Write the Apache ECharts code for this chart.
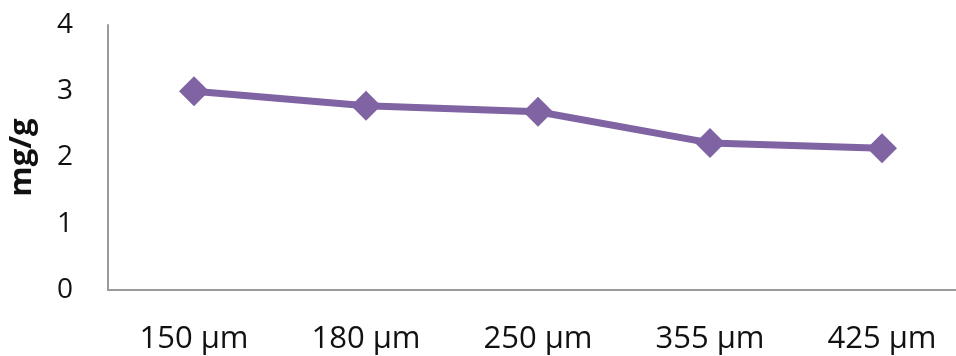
<!DOCTYPE html>
<html>
<head>
<meta charset="utf-8">
<script src="https://cdn.jsdelivr.net/npm/echarts@6/dist/echarts.min.js"></script>
<style>
  html, body { margin: 0; padding: 0; background: #ffffff; }
  #chart { width: 956px; height: 356px; }
</style>
</head>
<body>
<div id="chart"></div>
<script>
// Particle size classes and the measured content for each
const sizes = ['150 µm', '180 µm', '250 µm', '355 µm', '425 µm'];
const content = [3.0, 2.78, 2.69, 2.22, 2.14];
const yTicks = { min: 0, max: 4, interval: 1 };

const chart = echarts.init(document.getElementById('chart'), null, { renderer: 'canvas' });

chart.setOption({
  backgroundColor: '#ffffff',
  animation: false,
  grid: { left: 108, top: 25, width: 860, height: 265, outerBoundsMode: 'none' },
  xAxis: {
    type: 'category',
    data: sizes,
    boundaryGap: true,
    axisLine: { lineStyle: { color: '#9a9a9a', width: 2 } },
    axisTick: { show: false },
    axisLabel: {
      color: '#111111',
      fontFamily: 'Open Sans',
      fontSize: 31,
      margin: 34
    },
    splitLine: { show: false }
  },
  yAxis: {
    type: 'value',
    min: yTicks.min,
    max: yTicks.max,
    interval: yTicks.interval,
    name: 'mg/g',
    nameLocation: 'middle',
    nameRotate: 90,
    nameGap: 70,
    nameTextStyle: {
      color: '#111111',
      fontFamily: 'Open Sans',
      fontWeight: 'bold',
      fontSize: 31
    },
    axisLine: { show: true, lineStyle: { color: '#9a9a9a', width: 2 } },
    axisTick: { show: false },
    axisLabel: {
      color: '#111111',
      fontFamily: 'Open Sans',
      fontSize: 28,
      margin: 35
    },
    splitLine: { show: false }
  },
  series: [{
    type: 'line',
    data: content,
    symbol: 'diamond',
    symbolSize: [30, 30],
    lineStyle: { color: '#7f63a2', width: 7 },
    itemStyle: { color: '#7f63a2' },
    z: 3
  }]
});
</script>
</body>
</html>
